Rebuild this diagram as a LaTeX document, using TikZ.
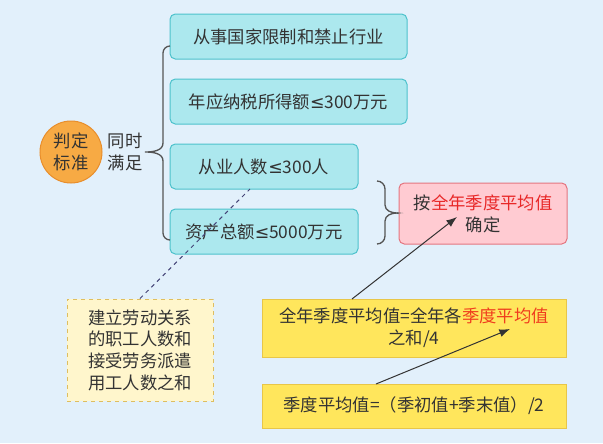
\documentclass[tikz,border=0pt]{standalone}
\usepackage{fontspec}
\setmainfont{Noto Sans CJK SC}
\newfontfamily\fuhao{DejaVu Sans}
\usetikzlibrary{arrows.meta}
\definecolor{bglan}{RGB}{226,240,251}
\definecolor{qingtian}{RGB}{172,232,238}
\definecolor{qingbian}{RGB}{78,194,204}
\definecolor{chengtian}{RGB}{247,170,68}
\definecolor{chengbian}{RGB}{232,142,44}
\definecolor{fentian}{RGB}{255,203,210}
\definecolor{fenbian}{RGB}{228,118,128}
\definecolor{huangtian}{RGB}{255,230,92}
\definecolor{huangbian}{RGB}{232,198,72}
\definecolor{qianhuang}{RGB}{255,246,204}
\definecolor{qianbian}{RGB}{222,190,96}
\definecolor{wenzihui}{RGB}{51,51,51}
\definecolor{xianhui}{RGB}{85,85,85}
\definecolor{hongzi}{RGB}{232,40,40}
\definecolor{chenghong}{RGB}{240,62,30}
\newcommand{\wenzi}{\fontsize{13pt}{16.3pt}\selectfont}
\newcommand{\xiaoyu}{{\fuhao ≤}}
\begin{document}
\begin{tikzpicture}[x=0.75pt, y=-0.75pt, >={Latex[length=8pt,width=6pt]},
    every node/.style={text=wenzihui, font=\wenzi},
    tiaojian/.style={rectangle, rounded corners=4pt, draw=qingbian, fill=qingtian, line width=0.75pt, minimum height=33.75pt, inner sep=0pt},
    huangkuang/.style={rectangle, draw=huangbian, fill=huangtian, line width=0.75pt, inner sep=0pt, align=center}]
    % 背景
    \fill[bglan] (0,0) rectangle (603,443);
    \useasboundingbox (0,0) rectangle (603,443);

    % 中心主题与条件
    \node[circle, draw=chengbian, fill=chengtian, line width=0.75pt, minimum size=46.5pt, inner sep=0pt, align=center] (biaozhun) at (71,152) {判定\\标准};
    \node[align=center, inner sep=0pt] (manzu) at (125,152) {同时\\满足};
    \node[tiaojian, minimum width=177.75pt] (hangye) at (288.5,36.5) {从事国家限制和禁止行业};
    \node[tiaojian, minimum width=177.75pt] (nashui) at (288.5,101.5) {年应纳税所得额\xiaoyu300万元};
    \node[tiaojian, minimum width=141pt] (renshu) at (264,166.5) {从业人数\xiaoyu300人};
    \node[tiaojian, minimum width=141pt] (zichan) at (264,231.5) {资产总额\xiaoyu5000万元};

    % 左侧大括号
    \draw[xianhui, line width=1pt] (170,46) to[out=180,in=90] (163,53) -- (163,143)
        to[out=-90,in=0] (145,152) to[out=0,in=90] (163,161) -- (163,233)
        to[out=-90,in=180] (170,240);

    % 确定方法
    \node[rectangle, rounded corners=4pt, draw=fenbian, fill=fentian, line width=0.75pt, minimum width=126pt, minimum height=45.75pt, inner sep=0pt, align=center] (queding) at (483,213.5) {按\textcolor{hongzi}{全年季度平均值}\\确定};
    \draw[xianhui, line width=1pt] (377,181) to[out=0,in=90] (385,189) -- (385,205)
        to[out=-90,in=180] (397,213) to[out=180,in=90] (385,221) -- (385,236)
        to[out=-90,in=0] (377,244);
    \draw[xianhui, line width=1pt] (397,213) -- (queding.west);

    % 注释
    \node[rectangle, dashed, draw=qianbian, fill=qianhuang, line width=0.75pt, minimum width=109.5pt, minimum height=76.5pt, inner sep=0pt, align=center] (zhushi) at (140,350) {建立劳动关系\\的职工人数和\\接受劳务派遣\\用工人数之和};
    \coordinate (renshudi) at (250,189);
    \draw[dashed, xianhui!80!blue, line width=0.75pt] (zhushi.north) -- (renshudi);

    % 计算公式
    \node[huangkuang, minimum width=228pt, minimum height=43.5pt] (quannian) at (414,328) {全年季度平均值=全年各\textcolor{chenghong}{季度平均值}\\之和/4};
    \node[huangkuang, minimum width=228pt, minimum height=33pt] (jidu) at (414,406) {季度平均值=（季初值+季末值）/2};

    \coordinate (qndian) at (352,299);
    \coordinate (qdjian) at (457,217);
    \coordinate (jddian) at (376,384);
    \coordinate (qnjian) at (510,329);
    \draw[->, wenzihui, line width=0.75pt] (qndian) -- (qdjian);
    \draw[->, wenzihui, line width=0.75pt] (jddian) -- (qnjian);
\end{tikzpicture}
\end{document}
